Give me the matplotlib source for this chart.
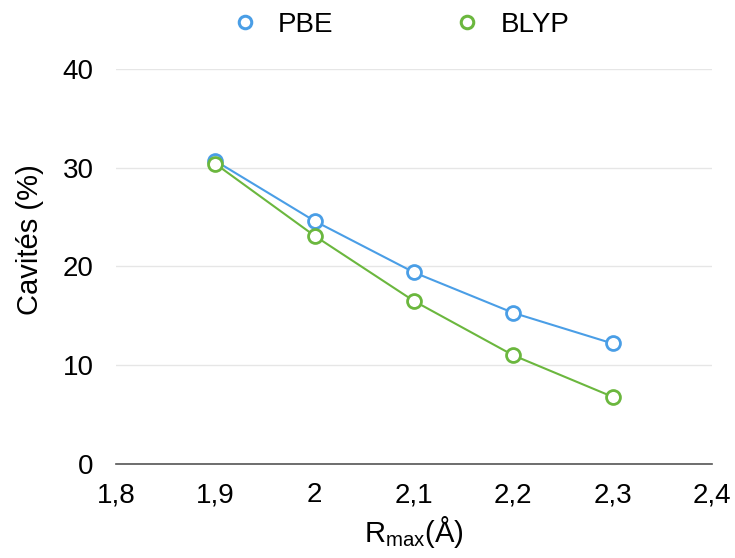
import numpy as np
import matplotlib.pyplot as plt
from matplotlib.lines import Line2D

plt.rcParams['font.family'] = ['Liberation Sans', 'DejaVu Sans']

r_max = [1.9, 2.0, 2.1, 2.2, 2.3]
pbe = [30.7, 24.6, 19.4, 15.3, 12.2]
blyp = [30.4, 23.1, 16.5, 11.0, 6.8]

x_ticks = [1.8, 1.9, 2.0, 2.1, 2.2, 2.3, 2.4]
x_labels = ['1,8', '1,9', '2', '2,1', '2,2', '2,3', '2,4']
y_ticks = [0, 10, 20, 30, 40]

blue = '#4a9ee6'
green = '#6bb73e'

fig = plt.figure(figsize=(7.35, 5.58), dpi=100)
ax = fig.add_axes([0.1578, 0.1685, 0.8109, 0.7079])

ax.plot(r_max, pbe, marker='o', color=blue, lw=1.5, ms=10, mew=2.0,
        mfc='white', zorder=3)
ax.plot(r_max, blyp, marker='o', color=green, lw=1.5, ms=10, mew=2.0,
        mfc='white', zorder=3)

ax.set_xlim(1.8, 2.4)
ax.set_ylim(0, 40)
ax.set_xticks(x_ticks)
ax.set_xticklabels(x_labels)
ax.set_yticks(y_ticks)
ax.tick_params(axis='x', length=0, labelsize=20, pad=13)
ax.tick_params(axis='y', length=0, labelsize=20, pad=16)
ax.grid(axis='y', color='#e6e6e6', lw=1)
ax.set_axisbelow(True)
for s in ['top', 'right', 'left']:
    ax.spines[s].set_visible(False)
ax.spines['bottom'].set_color('#555555')
ax.spines['bottom'].set_linewidth(1.2)

ax.set_ylabel('Cavités (%)', fontsize=21)
ax.yaxis.set_label_coords(44 / 735, 1 - 240 / 558, transform=fig.transFigure)
ax.set_xlabel('R$_{\\mathregular{max}}$(Å)', fontsize=21, labelpad=4)

handles = [
    Line2D([], [], ls='none', marker='o', color=blue, ms=9, mew=2.2, mfc='white'),
    Line2D([], [], ls='none', marker='o', color=green, ms=9, mew=2.2, mfc='white'),
]
fig.legend(handles, ['PBE', 'BLYP'], loc='center',
           bbox_to_anchor=(400 / 735, 1 - 25 / 558), ncol=2, frameon=False,
           fontsize=20, columnspacing=4.3, handlelength=1.0, handletextpad=0.7)

fig.savefig('out.png', dpi=100)
